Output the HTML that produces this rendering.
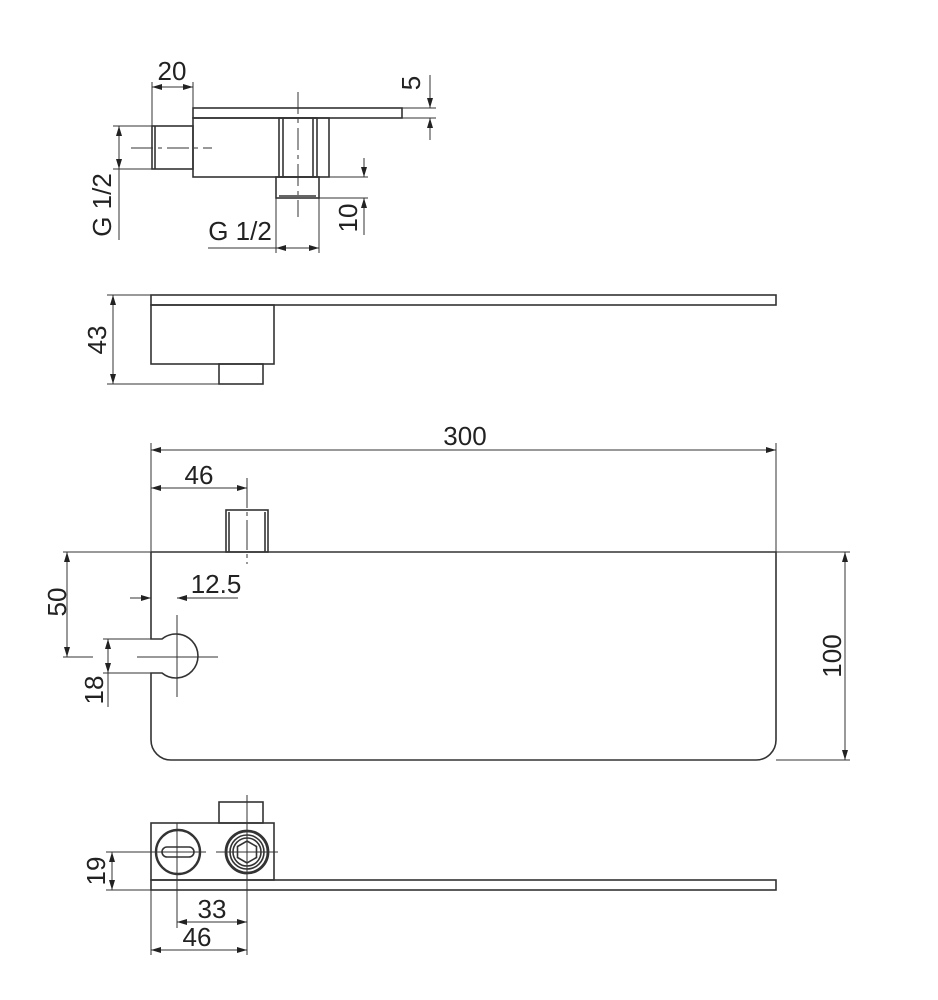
<!DOCTYPE html>
<html><head><meta charset="utf-8"><style>
html,body{margin:0;padding:0;background:#fff;}
svg{display:block}
text{font-family:"Liberation Sans",sans-serif;font-size:26px;fill:#222;}
</style></head><body>
<svg width="938" height="1000" viewBox="0 0 938 1000" xmlns="http://www.w3.org/2000/svg">
<defs>
<marker id="a" viewBox="0 0 10 6" refX="10" refY="3" markerWidth="10" markerHeight="6" orient="auto-start-reverse" markerUnits="userSpaceOnUse"><path d="M0,0L10,3L0,6z" fill="#222"/></marker>
</defs>
<g fill="none" stroke="#333" stroke-width="1.6">
<rect x="193" y="108" width="209" height="10"/>
<rect x="193" y="118" width="136" height="59"/>
<rect x="279" y="118" width="38" height="59"/>
<line x1="283" y1="118" x2="283" y2="177"/><line x1="313" y1="118" x2="313" y2="177"/>
<rect x="152" y="126" width="41" height="43"/>
<line x1="155" y1="126" x2="155" y2="169"/>
<rect x="276" y="177" width="43" height="21"/>
<line x1="279" y1="196" x2="316" y2="196"/>
</g>
<g stroke="#333" stroke-width="1" fill="none">
<line x1="131" y1="148" x2="212" y2="148" stroke-dasharray="22,5,4,5"/>
<line x1="298" y1="92" x2="298" y2="217" stroke-dasharray="22,5,4,5"/>
<line x1="152" y1="82" x2="152" y2="126"/><line x1="193" y1="82" x2="193" y2="108"/>
<line x1="152" y1="87" x2="193" y2="87" marker-start="url(#a)" marker-end="url(#a)"/>
<line x1="402" y1="108" x2="436" y2="108"/><line x1="402" y1="118" x2="436" y2="118"/>
<line x1="430" y1="75" x2="430" y2="108" marker-end="url(#a)"/>
<line x1="430" y1="140" x2="430" y2="118" marker-end="url(#a)"/>
<line x1="113" y1="126" x2="152" y2="126"/><line x1="113" y1="169" x2="152" y2="169"/>
<line x1="119" y1="126" x2="119" y2="169" marker-start="url(#a)" marker-end="url(#a)"/>
<line x1="119" y1="169" x2="119" y2="240"/>
<line x1="276" y1="198" x2="276" y2="253"/><line x1="319" y1="198" x2="319" y2="253"/>
<line x1="276" y1="248" x2="319" y2="248" marker-start="url(#a)" marker-end="url(#a)"/>
<line x1="208" y1="248" x2="276" y2="248"/>
<line x1="329" y1="177" x2="368" y2="177"/><line x1="319" y1="198" x2="368" y2="198"/>
<line x1="364" y1="158" x2="364" y2="177" marker-end="url(#a)"/>
<line x1="364" y1="235" x2="364" y2="198" marker-end="url(#a)"/>
</g>
<text x="172" y="80" text-anchor="middle">20</text>
<text transform="translate(420,83) rotate(-90)" text-anchor="middle">5</text>
<text transform="translate(111,205) rotate(-90)" text-anchor="middle">G 1/2</text>
<text x="240" y="240" text-anchor="middle">G 1/2</text>
<text transform="translate(357,218) rotate(-90)" text-anchor="middle">10</text>

<g fill="none" stroke="#333" stroke-width="1.6">
<rect x="151" y="295" width="625" height="10"/>
<rect x="151" y="305" width="123" height="59"/>
<rect x="219" y="364" width="44" height="20"/>
</g>
<g stroke="#333" stroke-width="1">
<line x1="107" y1="295" x2="151" y2="295"/><line x1="107" y1="384" x2="219" y2="384"/>
<line x1="113" y1="295" x2="113" y2="384" marker-start="url(#a)" marker-end="url(#a)"/>
</g>
<text transform="translate(106,340) rotate(-90)" text-anchor="middle">43</text>

<g fill="none" stroke="#333" stroke-width="1.6">
<path d="M151,552 H776 V740 A20,20 0 0 1 756,760 H171 A20,20 0 0 1 151,740 V673 H162 A22,22 0 1 0 162,639 H151 V552"/>
<rect x="226" y="510" width="42" height="42"/>
<line x1="229" y1="512" x2="229" y2="552"/><line x1="265" y1="512" x2="265" y2="552"/>
</g>
<g stroke="#333" stroke-width="1" fill="none">
<line x1="63" y1="552" x2="151" y2="552"/><line x1="776" y1="552" x2="850" y2="552"/>
<line x1="776" y1="760" x2="850" y2="760"/>
<line x1="845" y1="552" x2="845" y2="760" marker-start="url(#a)" marker-end="url(#a)"/>
<line x1="151" y1="443" x2="151" y2="552"/><line x1="776" y1="443" x2="776" y2="552"/>
<line x1="151" y1="450" x2="776" y2="450" marker-start="url(#a)" marker-end="url(#a)"/>
<line x1="247" y1="478" x2="247" y2="564" stroke-dasharray="30,4,4,4"/>
<line x1="151" y1="488" x2="247" y2="488" marker-start="url(#a)" marker-end="url(#a)"/>
<line x1="67" y1="552" x2="67" y2="657" marker-start="url(#a)" marker-end="url(#a)"/>
<line x1="63" y1="657" x2="93" y2="657"/>
<line x1="137" y1="657" x2="218" y2="657"/>
<line x1="177" y1="615" x2="177" y2="697"/>
<line x1="130" y1="598" x2="151" y2="598" marker-end="url(#a)"/>
<line x1="238" y1="598" x2="177" y2="598" marker-end="url(#a)"/>
<line x1="103" y1="639" x2="151" y2="639"/><line x1="103" y1="673" x2="151" y2="673"/>
<line x1="108" y1="639" x2="108" y2="673" marker-start="url(#a)" marker-end="url(#a)"/>
<line x1="108" y1="673" x2="108" y2="707"/>
</g>
<text x="465" y="445" text-anchor="middle">300</text>
<text x="199" y="484" text-anchor="middle">46</text>
<text x="216" y="593" text-anchor="middle">12.5</text>
<text transform="translate(66,602) rotate(-90)" text-anchor="middle">50</text>
<text transform="translate(103,690) rotate(-90)" text-anchor="middle">18</text>
<text transform="translate(841,656) rotate(-90)" text-anchor="middle">100</text>

<g fill="none" stroke="#333" stroke-width="1.6">
<rect x="151" y="823" width="123" height="57"/>
<rect x="151" y="880" width="625" height="10"/>
<rect x="219" y="802" width="44" height="21"/>
<circle cx="178" cy="852" r="22" stroke-width="2.4"/>
<rect x="162" y="847" width="32" height="10" rx="5"/>
<circle cx="247" cy="852" r="21" stroke-width="2.8"/>
<circle cx="247" cy="852" r="17"/>
<circle cx="247" cy="852" r="14"/>
<polygon points="247,841 256.5,846.5 256.5,857.5 247,863 237.5,857.5 237.5,846.5"/>
</g>
<g stroke="#333" stroke-width="1" fill="none">
<line x1="150" y1="852" x2="206" y2="852"/><line x1="216" y1="852" x2="278" y2="852"/>
<line x1="247" y1="795" x2="247" y2="955"/>
<line x1="177" y1="823" x2="177" y2="928"/>
<line x1="151" y1="890" x2="151" y2="955"/>
<line x1="106" y1="852" x2="151" y2="852"/><line x1="106" y1="890" x2="151" y2="890"/>
<line x1="112" y1="852" x2="112" y2="890" marker-start="url(#a)" marker-end="url(#a)"/>
<line x1="177" y1="922" x2="247" y2="922" marker-start="url(#a)" marker-end="url(#a)"/>
<line x1="151" y1="950" x2="247" y2="950" marker-start="url(#a)" marker-end="url(#a)"/>
</g>
<text transform="translate(105,871) rotate(-90)" text-anchor="middle">19</text>
<text x="212" y="918" text-anchor="middle">33</text>
<text x="197" y="946" text-anchor="middle">46</text>
</svg>
</body></html>
